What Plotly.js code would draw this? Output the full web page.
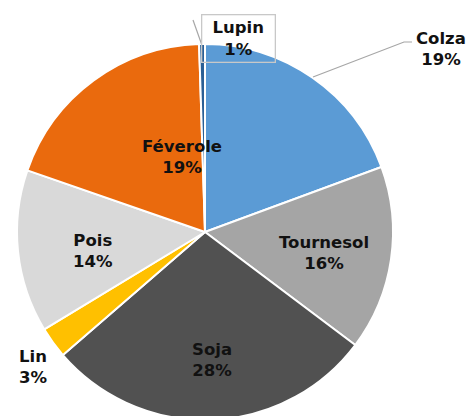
<!DOCTYPE html>
<html>
<head>
<meta charset="utf-8">
<script src="https://cdn.plot.ly/plotly-3.0.1.min.js"></script>
<style>
html,body{margin:0;padding:0;overflow:hidden;background:#fff;width:468px;height:416px;}
#chart{width:468px;height:430px;}
</style>
</head>
<body>
<div id="chart"></div>
<script>
// Data
const categories = ["Colza", "Tournesol", "Soja", "Lin", "Pois", "Féverole", "Lupin"];
const values = [19.4, 15.9, 28.4, 2.7, 14.0, 19.2, 0.5];
const colors = ["#5B9BD5", "#A5A5A5", "#515151", "#FFC000", "#D9D9D9", "#EA6A0D", "#2A5F95"];

const W = 468, H = 430;
const M = {l: 17, r: 75, t: 44, b: 10};
const PW = W - M.l - M.r, PH = H - M.t - M.b;
function px(x) { return (x - M.l) / PW; }
function py(y) { return 1 - (y - M.t) / PH; }

const total = values.reduce((a, b) => a + b, 0);
const pct = values.map(v => Math.max(1, Math.round(v / total * 100)) + "%");

// label placement (pixel centers) per category, layout only
const labelPos = {
  "Colza":     {x: 441, y: 49, box: false},
  "Tournesol": {x: 324, y: 253, box: false},
  "Soja":      {x: 212, y: 360, box: false},
  "Lin":       {x: 33,  y: 367, box: false},
  "Pois":      {x: 93,  y: 251, box: false},
  "Féverole":  {x: 182, y: 157, box: false},
  "Lupin":     {x: 238, y: 38,  box: true}
};

const FONT = "'DejaVu Sans', 'Open Sans', sans-serif";
const annotations = categories.map((c, i) => {
  const p = labelPos[c];
  const a = {
    xref: "paper", yref: "paper",
    x: px(p.x), y: py(p.y),
    xanchor: "center", yanchor: "middle",
    text: "<b>" + c + "<br>" + pct[i] + "</b>",
    showarrow: false,
    font: {family: FONT, size: 16.5, color: "#111111"},
    align: "center"
  };
  if (p.box) {
    a.bordercolor = "#C8C8C8";
    a.borderwidth = 1.3;
    a.borderpad = 3;
    a.width = 66;
  }
  return a;
});

const shapes = [
  {type: "path", xref: "paper", yref: "paper",
   path: "M " + px(313) + " " + py(77) + " L " + px(404) + " " + py(42) + " L " + px(412) + " " + py(42),
   line: {color: "#A6A6A6", width: 1.2}},
  {type: "line", xref: "paper", yref: "paper",
   x0: px(193), y0: py(20), x1: px(201.5), y1: py(44),
   line: {color: "#A6A6A6", width: 1.2}}
];

const trace = {
  type: "pie",
  labels: categories,
  values: values,
  sort: false,
  direction: "clockwise",
  rotation: 0,
  marker: {colors: colors, line: {color: "#FFFFFF", width: 2}},
  textinfo: "none",
  hoverinfo: "label+percent",
  showlegend: false
};

Plotly.newPlot("chart", [trace], {
  width: W, height: H,
  margin: M,
  paper_bgcolor: "#FFFFFF",
  plot_bgcolor: "#FFFFFF",
  showlegend: false,
  annotations: annotations,
  shapes: shapes
}, {displayModeBar: false, staticPlot: true});
</script>
</body>
</html>
